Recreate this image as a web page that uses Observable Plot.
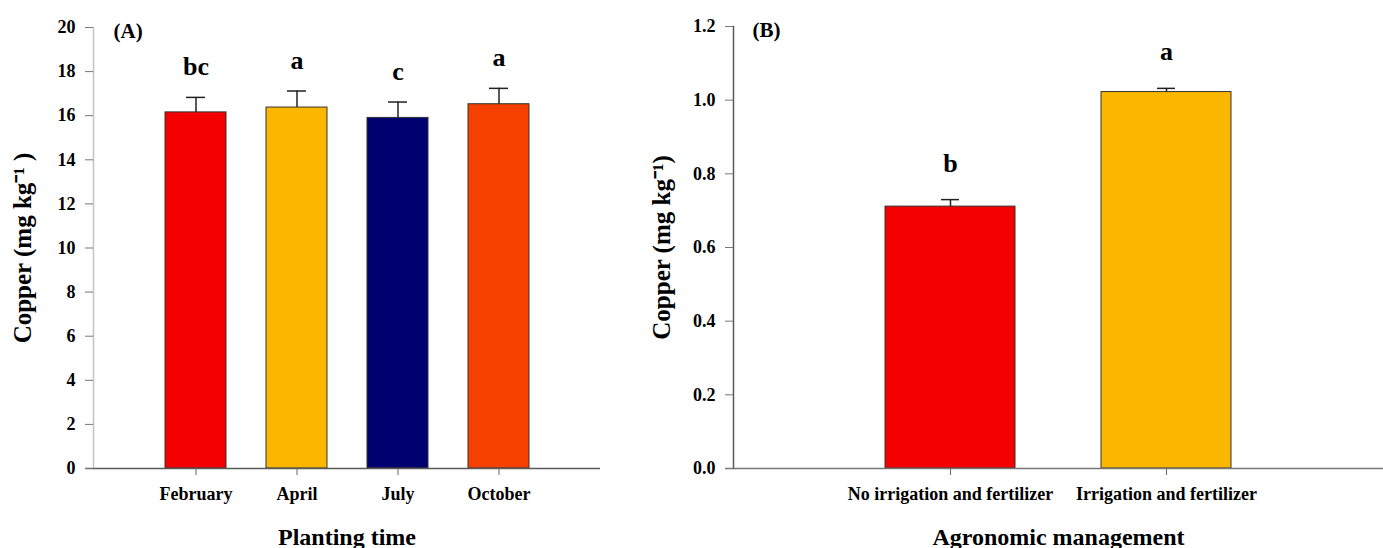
<!DOCTYPE html>
<html><head><meta charset="utf-8">
<script src="https://cdn.jsdelivr.net/npm/d3@7"></script>
<script src="https://cdn.jsdelivr.net/npm/@observablehq/plot@0.6"></script>
<style>
body{margin:0;background:#fff;}
#wrap{display:flex;width:1383px;height:548px;overflow:hidden;background:#fff;}
</style></head><body><div id="wrap"><div id="a"></div><div id="b"></div></div>
<script>
// Panel A: planting time
const monthsA = ["February", "April", "July", "October"];
const copperA = [16.15, 16.37, 15.90, 16.52];
const seA = [0.68, 0.75, 0.72, 0.72];
const lettersA = ["bc", "a", "c", "a"];
const colorsA = ["#F40000", "#FBB700", "#00006E", "#F54000"];
const ticksA = [0, 2, 4, 6, 8, 10, 12, 14, 16, 18, 20];

// Panel B: agronomic management
const mgmtB = ["No irrigation and fertilizer", "Irrigation and fertilizer"];
const copperB = [0.711, 1.022];
const seB = [0.019, 0.010];
const lettersB = ["b", "a"];
const colorsB = ["#F40000", "#FBB700"];
const ticksB = [0, 0.2, 0.4, 0.6, 0.8, 1.0, 1.2];

const tableA = monthsA.map((c, i) => ({cat: c, mean: copperA[i], se: seA[i], letter: lettersA[i], color: colorsA[i]}));
const tableB = mgmtB.map((c, i) => ({cat: c, mean: copperB[i], se: seB[i], letter: lettersB[i], color: colorsB[i]}));

function panel(o) {
  return Plot.plot({
    width: o.width, height: 548,
    marginLeft: 93, marginTop: o.marginTop, marginBottom: 80, marginRight: o.marginRight,
    style: {fontFamily: "'Liberation Serif', 'Times New Roman', serif", fontWeight: "bold", background: "white", color: "black", overflow: "hidden"},
    x: {type: "band", domain: o.domain, paddingInner: 0.4, paddingOuter: 0.7, label: null},
    y: {domain: o.yDomain, label: null},
    marks: [
      Plot.frame({anchor: "left", stroke: o.yLineColor, strokeWidth: 1.5}),
      Plot.barY(o.data, {x: "cat", y: "mean", fill: "color", stroke: "#333", strokeWidth: 1}),
      Plot.ruleX(o.data, {x: "cat", y1: "mean", y2: d => d.mean + d.se, stroke: "#222", strokeWidth: 1.5}),
      Plot.tickY(o.data, {x: "cat", y: d => d.mean + d.se, insetLeft: o.capInset, insetRight: o.capInset, stroke: "#222", strokeWidth: 1.5}),
      Plot.ruleY([0], {stroke: o.xLineColor, strokeWidth: 1.5, insetLeft: -8}),
      Plot.axisY({ticks: o.yTicks, tickFormat: o.yFmt, tickSize: 8, tickPadding: 10, fontSize: 18, stroke: "#777", fill: "black", label: null}),
      Plot.axisX({tickSize: 7, tickPadding: 12, fontSize: 18, stroke: "#666", fill: "black", label: null}),
      Plot.text(o.data, {x: "cat", y: d => d.mean + d.se, text: "letter", dy: o.letterDy, fontSize: 26, lineAnchor: "bottom", fill: "black"}),
      Plot.text([o.tag], {text: d => d, frameAnchor: "top-left", dx: o.tagDx, dy: 4, fontSize: 21, textAnchor: "start", lineAnchor: "middle", fill: "black"}),
      Plot.text([o.xTitle], {text: d => d, frameAnchor: "bottom", dy: 76, fontSize: 24, fill: "black"}),
      Plot.text([o.yLabel], {text: d => d, frameAnchor: "left", dx: o.yLabelDx, rotate: -90, textAnchor: "middle", lineAnchor: "middle", fontSize: 25, fill: "black"})
    ]
  });
}

document.getElementById("a").append(panel({
  width: 640, marginRight: 40, marginTop: 27, data: tableA, domain: monthsA,
  yDomain: [0, 20], yTicks: ticksA, yFmt: d => String(d), capInset: 21,
  yLineColor: "#c4c4c4", xLineColor: "#5a5a5a", letterDy: -22,
  tag: "(A)", tagDx: 20, xTitle: "Planting time", yLabel: "Copper (mg kg\u207B\u00B9 )", yLabelDx: -71
}));
document.getElementById("b").append(panel({
  width: 743, marginRight: 0, marginTop: 26, data: tableB, domain: mgmtB,
  yDomain: [0, 1.2], yTicks: ticksB, yFmt: d => d.toFixed(1), capInset: 56,
  yLineColor: "#5a5a5a", xLineColor: "#777", letterDy: -28,
  tag: "(B)", tagDx: 19, xTitle: "Agronomic management", yLabel: "Copper (mg kg\u207B\u00B9)", yLabelDx: -72
}));
</script></body></html>
